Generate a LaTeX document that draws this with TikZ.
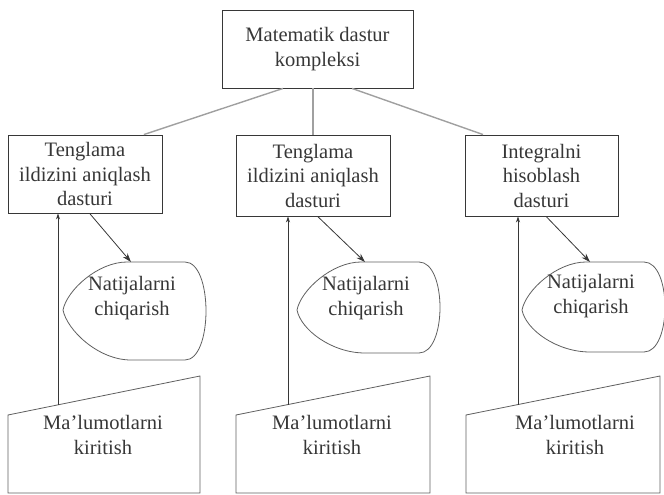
\documentclass[tikz,border=0pt]{standalone}
\usepackage{fontspec}
\setmainfont{Liberation Serif}
\usetikzlibrary{arrows.meta,calc}
\definecolor{inkgray}{RGB}{55,55,55}
\definecolor{linkgray}{RGB}{160,160,160}
\definecolor{edgegray}{RGB}{95,95,95}

\begin{document}
\begin{tikzpicture}[x=1pt,y=-1pt,
    blk/.style={rectangle,draw=inkgray,line width=0.9pt,align=center,inner sep=0pt,
      text=inkgray,font=\fontsize{20.5}{24.5}\selectfont},
    lbl/.style={align=center,inner sep=0pt,text=inkgray,font=\fontsize{20.5}{24.5}\selectfont},
    shp/.style={draw=edgegray,line width=0.8pt},
    ln/.style={linkgray,line width=1.4pt},
    a/.style={-{Stealth[length=9pt,width=6pt]},inkgray,line width=0.8pt},
    up/.style={-{Stealth[length=6pt,width=4pt]},inkgray,line width=0.9pt}]
  \useasboundingbox (0,0) rectangle (664,495);
  % top level
  \node[blk,minimum width=191pt,minimum height=78pt] (top) at (317.5,49) {Matematik dastur\\kompleksi};
  % programs
  \node[blk,minimum width=154pt,minimum height=78pt] (b1) at (85,174) {Tenglama\\ildizini aniqlash\\dasturi};
  \node[blk,minimum width=154pt,minimum height=81pt] (b2) at (313,175.5) {Tenglama\\ildizini aniqlash\\dasturi};
  \node[blk,minimum width=153pt,minimum height=81pt] (b3) at (541.5,175.5) {Integralni\\hisoblash\\dasturi};
  \draw[ln] ($(top.south west)!0.32!(top.south east)$) -- ($(b1.north west)!0.88!(b1.north east)$);
  \draw[ln] (b2.north |- top.south) -- (b2.north);
  \draw[ln] ($(top.south west)!0.68!(top.south east)$) -- ($(b3.north west)!0.12!(b3.north east)$);
  % output displays
  \foreach \L/\B/\ty/\n in {63/360/298/1,297/353/298/2,522/352/296/3}{
    \draw[shp] (\L+64,262) -- (\L+122,262) .. controls (\L+150,262) and (\L+150,\B) .. (\L+122,\B)
      -- (\L+68,\B) .. controls (\L+35,\B) and (\L+4,330) .. (\L,310)
      .. controls (\L+4,290) and (\L+35,262) .. (\L+64,262);
    \coordinate (d\n top) at (\L+68,262);
    \node[lbl] (d\n) at (\L+69,\ty) {Natijalarni\\chiqarish};
  }
  % inputs
  \foreach \l/\r/\tx/\vx/\n in {8/200/103/58/1,236/430/332/288/2,466/660/575/518/3}{
    \draw[shp] (\l,415) -- (\r,376) -- (\r,493) -- (\l,493) -- cycle;
    \coordinate (i\n top) at (\vx,{415-39*(\vx-\l)/(\r-\l)});
    \node[lbl] (i\n) at (\tx,435) {Ma’lumotlarni\\kiritish};
  }
  \foreach \n in {1,2,3}{
    \draw[a] ($(b\n.south west)!0.53!(b\n.south east)$) -- (d\n top);
    \draw[up] (i\n top) -- (i\n top |- b\n.south);
  }
\end{tikzpicture}
\end{document}
